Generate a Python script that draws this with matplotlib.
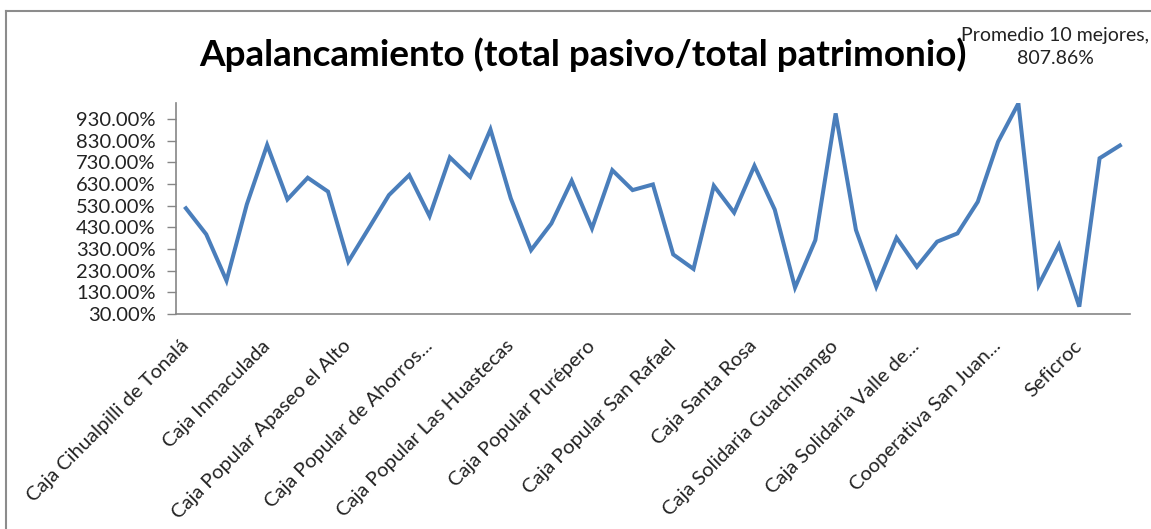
import numpy as np
import matplotlib
matplotlib.use("Agg")
import matplotlib.pyplot as plt
from matplotlib.lines import Line2D
from matplotlib.ticker import FuncFormatter
from matplotlib.transforms import ScaledTranslation

#Titulo y nota
titulo = "Apalancamiento (total pasivo/total patrimonio)"
nota = "Promedio 10 mejores,\n807.86%"

#Apalancamiento de cada caja (%)
apalancamiento = [518, 398, 184, 536, 810, 559, 659, 595, 272, 425,
                  579, 671, 482, 753, 663, 882, 564, 325, 448, 645,
                  425, 694, 602, 628, 305, 238, 622, 498, 714, 512,
                  152, 371, 956, 418, 156, 382, 248, 364, 402, 548,
                  825, 1002, 164, 348, 64, 749, 807.86]

#Etiquetas visibles del eje X (una de cada 4)
etiquetas = ["Caja Cihualpilli de Tonalá", "Caja Inmaculada",
             "Caja Popular Apaseo el Alto", "Caja Popular de Ahorros...",
             "Caja Popular Las Huastecas", "Caja Popular Purépero",
             "Caja Popular San Rafael", "Caja Santa Rosa",
             "Caja Solidaria Guachinango", "Caja Solidaria Valle de...",
             "Cooperativa San Juan...", "Seficroc"]
paso_etiquetas = 4

#Marcas del eje Y
marcas_y = [30, 130, 230, 330, 430, 530, 630, 730, 830, 930]

plt.rcParams['font.family'] = ['Lato', 'DejaVu Sans']

fig = plt.figure(figsize=(11.51, 5.29), dpi=100)
ax = fig.add_axes([0.1527, 0.4064, 0.8291, 0.3989])

n = len(apalancamiento)
x = np.arange(n)
ax.plot(x, apalancamiento, color="#4A7EBB", lw=2.9, solid_joinstyle="miter")

ax.set_xlim(-0.5, n - 0.5)
ax.set_ylim(30, 1004)
ax.set_yticks(marcas_y)
ax.yaxis.set_major_formatter(FuncFormatter(lambda v, p: "%.2f%%" % v))

pos = list(range(0, n, paso_etiquetas))[:len(etiquetas)]
ax.set_xticks(pos)
ax.set_xticklabels(etiquetas, rotation=45, ha="right", va="center",
                   rotation_mode="anchor", fontsize=14.5, color="#222222")
for lab in ax.get_xticklabels():
    lab.set_transform(lab.get_transform() + ScaledTranslation(-0.05, 0, fig.dpi_scale_trans))

ax.tick_params(axis="x", length=0, pad=21)
ax.tick_params(axis="y", length=6.5, width=1, color="#868686", labelsize=14.5,
               pad=8, labelcolor="#222222")

for s in ["top", "right"]:
    ax.spines[s].set_visible(False)
for s in ["left", "bottom"]:
    ax.spines[s].set_color("#868686")
    ax.spines[s].set_linewidth(1.2)

#Titulo y nota en coordenadas de la figura
fig.text(583 / 1151, 1 - 55 / 529, titulo, ha="center", va="center",
         fontsize=26.6, fontweight="bold")
fig.text(1055 / 1151, 1 - 47 / 529, nota, ha="center", va="center",
         fontsize=14, linespacing=1.4, color="#222222")

#Borde del area del grafico
fig.add_artist(Line2D([6 / 1151, 6 / 1151], [0, 1 - 11 / 529],
                      transform=fig.transFigure, color="#8c8c8c", lw=1.5))
fig.add_artist(Line2D([6 / 1151, 1], [1 - 11 / 529, 1 - 11 / 529],
                      transform=fig.transFigure, color="#8c8c8c", lw=1.5))

fig.savefig("out.png", dpi=100)
